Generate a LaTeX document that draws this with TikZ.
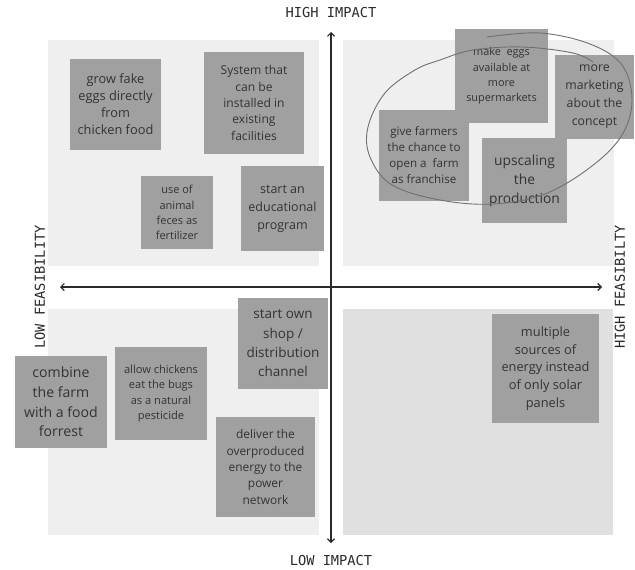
\documentclass[tikz,border=0pt]{standalone}
\usepackage{fontspec}
\setmainfont{Open Sans}
\newfontfamily\axisfont{DejaVu Sans Mono}
\usetikzlibrary{arrows.meta}
\definecolor{quad}{HTML}{EFEFEF}
\definecolor{quaddark}{HTML}{E0E0E0}
\definecolor{sticky}{HTML}{A0A0A0}
\definecolor{stickytext}{HTML}{333333}
\definecolor{axiscol}{HTML}{2A2A2A}
\definecolor{loopcol}{HTML}{707070}
\newcommand\fsz[2]{\fontsize{#1}{#2}\selectfont}
\begin{document}
\begin{tikzpicture}[x=1pt,y=-1pt,
  quadbox/.style={fill=quad, draw=none},
  note/.style={fill=sticky, draw=none, text=stickytext, align=center, inner sep=0pt},
  axislabel/.style={font=\axisfont\fsz{13.7}{16}, text=axiscol, inner sep=0pt},
  axisline/.style={draw=axiscol, line width=1.1pt, {Straight Barb[length=3.5pt,width=7pt]}-{Straight Barb[length=3.5pt,width=7pt]}},
  loopline/.style={draw=loopcol, line width=0.9pt}
]
\useasboundingbox[fill=white] (0,0) rectangle (635,570);

% quadrants
\fill[quadbox] (48,40) rectangle (319,266);
\fill[quadbox] (343,40) rectangle (614,266);
\fill[quadbox] (48,309) rectangle (319,535);
\fill[quadbox, fill=quaddark] (343,309) rectangle (613,535);

% axes
\coordinate (vtop) at (331,32);
\coordinate (vbot) at (331,543);
\coordinate (hleft) at (60,287);
\coordinate (hright) at (602,287);
\draw[axisline] (vtop) -- (vbot);
\draw[axisline] (hleft) -- (hright);

% axis labels
\node[axislabel] (hi) at (331,13) {HIGH IMPACT};
\node[axislabel] (li) at (331,561) {LOW IMPACT};
\node[axislabel, rotate=90] (lf) at (40,287) {LOW FEASIBILITY};
\node[axislabel, rotate=90] (hf) at (620,287) {HIGH FEASIBILTY};

% top left
\node[note, minimum width=91pt, minimum height=91pt, font=\fsz{12.8}{17}] (n1) at (115.5,104.5) {grow fake\\eggs directly\\from\\chicken food};
\node[note, minimum width=100pt, minimum height=102pt, font=\fsz{12.1}{16.3}] (n2) at (254,103) {System that\\can be\\installed in\\existing\\facilities};
\node[note, minimum width=72pt, minimum height=73pt, font=\fsz{11}{15.3}] (n3) at (177,212.5) {use of\\animal\\feces as\\fertilizer};
\node[note, minimum width=83pt, minimum height=85pt, font=\fsz{12.5}{18}] (n4) at (282.5,208.5) {start an\\educational\\program};

% top right
\node[note, minimum width=93pt, minimum height=94pt, font=\fsz{10.9}{15.3}] (n5) at (501.5,76) {make~ eggs\\available at\\more\\supermarkets};
\node[note, minimum width=79pt, minimum height=84pt, font=\fsz{12.3}{18}] (n6) at (594.5,97) {more\\marketing\\about the\\concept};
\node[note, minimum width=90pt, minimum height=91pt, font=\fsz{11.6}{16}] (n7) at (424,155.5) {give farmers\\the chance to\\open a~ farm\\as franchise};
\node[note, minimum width=85pt, minimum height=85pt, font=\fsz{13.8}{19}] (n8) at (524.5,180.5) {upscaling\\the\\production};

% bottom left
\node[note, minimum width=90pt, minimum height=91pt, font=\fsz{13.5}{19.3}] (n9) at (283,343.5) {start own\\shop /\\distribution\\channel};
\node[note, minimum width=92pt, minimum height=92pt, font=\fsz{14.1}{19.7}] (n10) at (61,402) {combine\\the farm\\with a food\\forrest};
\node[note, minimum width=92pt, minimum height=93pt, font=\fsz{11.1}{15.3}] (n11) at (161,393.5) {allow chickens\\eat the bugs\\as a natural\\pesticide};
\node[note, minimum width=99pt, minimum height=100pt, font=\fsz{11.9}{16.3}] (n12) at (265.5,467) {deliver the\\overproduced\\energy to the\\power\\network};

% bottom right
\node[note, minimum width=107pt, minimum height=109pt, font=\fsz{12.8}{17.6}] (n13) at (545.5,368.5) {multiple\\sources of\\energy instead\\of only solar\\panels};

% hand-drawn loop
\draw[loopline] plot[smooth, tension=0.6] coordinates {(593,62) (573,53) (523,47) (473,50) (440,60) (415,70) (385,93) (368,127) (370,157) (392,185) (440,200) (493,204) (545,194) (592,166) (622,135) (632,100) (622,65) (590,44) (540,33) (487,37)};
\end{tikzpicture}
\end{document}
